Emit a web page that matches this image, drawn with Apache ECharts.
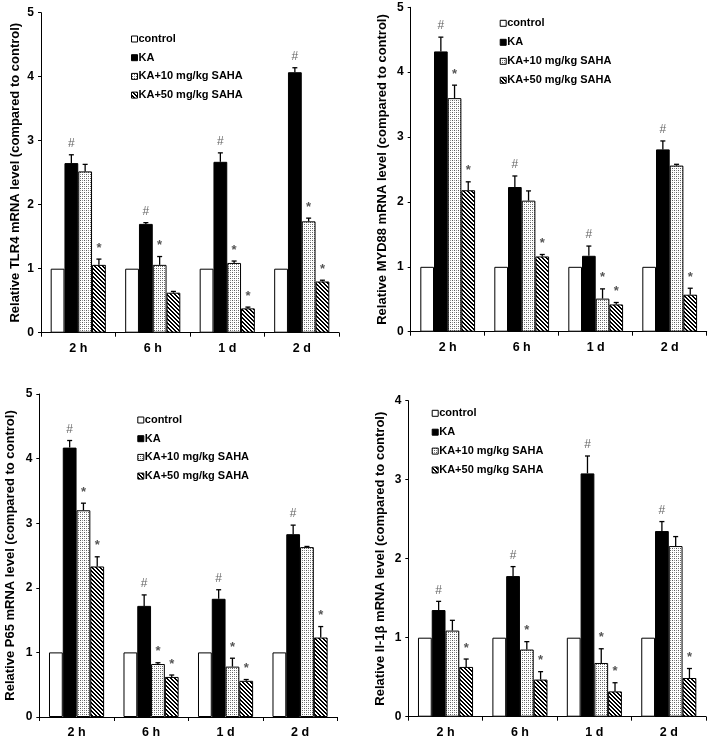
<!DOCTYPE html>
<html>
<head>
<meta charset="utf-8">
<script src="https://cdn.jsdelivr.net/npm/echarts@6/dist/echarts.min.js"></script>
<style>html,body{margin:0;padding:0;background:#fff}#c{width:709px;height:739px}</style>
</head>
<body>
<div id="c"></div>
<script>
const categories = ['2 h', '6 h', '1 d', '2 d'];
const seriesNames = ['control', 'KA', 'KA+10 mg/kg SAHA', 'KA+50 mg/kg SAHA'];
const yTitles = [
  'Relative TLR4 mRNA level (compared to control)',
  'Relative MYD88 mRNA level (compared to control)',
  'Relative P65 mRNA level (compared to control)',
  'Relative Il-1\u03b2 mRNA level (compared to control)'
];
const yMax = [5, 5, 5, 4];

// rows: control, KA, KA+10, KA+50 ; columns: 2 h, 6 h, 1 d, 2 d
const tlr4Mean = [[1, 1, 1, 1], [2.65, 1.70, 2.67, 4.07], [2.52, 1.06, 1.09, 1.74], [1.06, 0.625, 0.38, 0.80]];
const tlr4Err  = [[0, 0, 0, 0], [0.13, 0.02, 0.14, 0.07], [0.11, 0.13, 0.03, 0.05], [0.09, 0.02, 0.02, 0.02]];
const tlr4Sig  = [['', '', '', ''], ['#', '#', '#', '#'], ['', '*', '*', '*'], ['*', '', '*', '*']];

const myd88Mean = [[1, 1, 1, 1], [4.32, 2.23, 1.17, 2.81], [3.60, 2.02, 0.51, 2.56], [2.18, 1.16, 0.42, 0.57]];
const myd88Err  = [[0, 0, 0, 0], [0.22, 0.17, 0.15, 0.13], [0.20, 0.15, 0.15, 0.02], [0.13, 0.03, 0.03, 0.10]];
const myd88Sig  = [['', '', '', ''], ['#', '#', '#', '#'], ['*', '', '*', ''], ['*', '*', '*', '*']];

const p65Mean = [[1, 1, 1, 1], [4.17, 1.72, 1.83, 2.83], [3.20, 0.82, 0.78, 2.63], [2.33, 0.62, 0.56, 1.23]];
const p65Err  = [[0, 0, 0, 0], [0.11, 0.17, 0.14, 0.14], [0.11, 0.02, 0.13, 0.01], [0.15, 0.03, 0.02, 0.17]];
const p65Sig  = [['', '', '', ''], ['#', '#', '#', '#'], ['*', '*', '*', ''], ['*', '*', '*', '*']];

const il1bMean = [[1, 1, 1, 1], [1.35, 1.78, 3.08, 2.35], [1.09, 0.85, 0.68, 2.16], [0.63, 0.47, 0.32, 0.49]];
const il1bErr  = [[0, 0, 0, 0], [0.11, 0.12, 0.22, 0.12], [0.13, 0.10, 0.18, 0.12], [0.10, 0.10, 0.11, 0.12]];
const il1bSig  = [['', '', '', ''], ['#', '#', '#', '#'], ['', '*', '*', ''], ['*', '*', '*', '*']];

const panels = [
  { mean: tlr4Mean, err: tlr4Err, sig: tlr4Sig },
  { mean: myd88Mean, err: myd88Err, sig: myd88Sig },
  { mean: p65Mean, err: p65Err, sig: p65Sig },
  { mean: il1bMean, err: il1bErr, sig: il1bSig }
];

// layout
const grids = [
  { left: 41, top: 12.7, width: 298, height: 320 },
  { left: 410.7, top: 7.3, width: 296, height: 324.4 },
  { left: 39.3, top: 394, width: 298, height: 326 },
  { left: 408.3, top: 400.7, width: 297.7, height: 316 }
];
const nameGaps = [19.5, 21.5, 22.5, 21];
// legend: icon left x, first row centre y, row step
const legendPos = [
  { x: 131, y: 39, step: 18.7 },
  { x: 499.7, y: 23.3, step: 19 },
  { x: 137.3, y: 420, step: 18.7 },
  { x: 431.7, y: 413.3, step: 18.9 }
];

function makeTile(size, fn) {
  const cv = document.createElement('canvas');
  cv.width = size; cv.height = size;
  const ctx = cv.getContext('2d');
  const img = ctx.createImageData(size, size);
  for (let y = 0; y < size; y++) for (let x = 0; x < size; x++) {
    const v = fn(x, y);
    const i = (y * size + x) * 4;
    img.data[i] = v; img.data[i + 1] = v; img.data[i + 2] = v; img.data[i + 3] = 255;
  }
  ctx.putImageData(img, 0, 0);
  return cv;
}
const dotTile = makeTile(4, (x, y) => ((x % 2 === 0 && y % 2 === 0)) ? ((x + y) % 4 === 0 ? 90 : 150) : 255);
const hatchTile = makeTile(4, (x, y) => (((x - y) % 4 + 4) % 4) < 2 ? 0 : 255);

const fills = [
  '#ffffff',
  '#000000',
  { image: dotTile, repeat: 'repeat' },
  { image: hatchTile, repeat: 'repeat' }
];

const FONT = "'Liberation Sans', Arial, sans-serif";
const GAP = 0.26;

const graphics = [];
legendPos.forEach(p => {
  seriesNames.forEach((nm, si) => {
    const cy = p.y + si * p.step;
    graphics.push({
      type: 'rect', silent: true,
      shape: { x: p.x + 0.5, y: cy - 3, width: 6, height: 6 },
      style: { fill: fills[si], stroke: '#000', lineWidth: 1 }
    });
    graphics.push({
      type: 'text', silent: true, x: p.x + 7.5, y: cy,
      style: { text: nm, fill: '#000', font: 'bold 11px ' + FONT, verticalAlign: 'middle', align: 'left' }
    });
  });
});

const option = {
  animation: false,
  backgroundColor: '#fff',
  grid: grids.map(g => Object.assign({ containLabel: false }, g)),
  xAxis: grids.map((g, i) => ({
    type: 'category', gridIndex: i, data: categories,
    axisLine: { lineStyle: { color: '#000', width: 1 } },
    axisTick: { show: true, length: 4, lineStyle: { color: '#000' } },
    axisLabel: { color: '#000', fontWeight: 'bold', fontSize: 12.5, fontFamily: FONT, margin: 9 }
  })),
  yAxis: grids.map((g, i) => ({
    type: 'value', gridIndex: i, min: 0, max: yMax[i], interval: 1,
    name: yTitles[i], nameLocation: 'middle', nameGap: nameGaps[i],
    nameTextStyle: { color: '#000', fontWeight: 'bold', fontSize: 13, fontFamily: FONT },
    axisLine: { show: true, lineStyle: { color: '#000', width: 1 } },
    axisTick: { show: true, length: 3, lineStyle: { color: '#000' } },
    splitLine: { show: false },
    axisLabel: { color: '#000', fontWeight: 'bold', fontSize: 12, fontFamily: FONT, margin: 7 }
  })),
  graphic: graphics,
  series: []
};

panels.forEach((p, gi) => {
  seriesNames.forEach((nm, si) => {
    option.series.push({
      type: 'bar', name: nm, xAxisIndex: gi, yAxisIndex: gi,
      data: p.mean[si],
      barGap: '0%', barCategoryGap: (GAP * 100) + '%',
      itemStyle: { color: fills[si], borderColor: '#000', borderWidth: 1 },
      emphasis: { disabled: true }
    });
  });
  const items = [];
  for (let si = 1; si < 4; si++) for (let ci = 0; ci < 4; ci++) {
    items.push([ci, p.mean[si][ci], p.err[si][ci], si]);
  }
  const sigs = items.map(d => p.sig[d[3]][d[0]]);
  option.series.push({
    type: 'custom', xAxisIndex: gi, yAxisIndex: gi, z: 10, silent: true,
    data: items,
    renderItem: function (params, api) {
      const ci = api.value(0), mean = api.value(1), err = api.value(2), si = api.value(3);
      const band = api.size([1, 0])[0];
      const bw = band * (1 - GAP) / 4;
      const c0 = api.coord([ci, mean]);
      const c1 = api.coord([ci, mean + err]);
      const x = c0[0] - band * (1 - GAP) / 2 + (si + 0.5) * bw;
      const children = [];
      if (err > 0) {
        children.push({ type: 'line', shape: { x1: x, y1: c0[1], x2: x, y2: c1[1] }, style: { stroke: '#000', lineWidth: 1.3 } });
        children.push({ type: 'line', shape: { x1: x - 2.5, y1: c1[1], x2: x + 2.5, y2: c1[1] }, style: { stroke: '#000', lineWidth: 1.3 } });
      }
      const s = sigs[params.dataIndex];
      if (s) {
        children.push({
          type: 'text',
          style: {
            x: x, y: c1[1] - 11, text: s, align: 'center', verticalAlign: 'middle',
            fill: s === '#' ? '#666' : '#555', fontSize: s === '#' ? 12 : 13,
            fontWeight: s === '#' ? 'normal' : 'bold', fontFamily: FONT
          }
        });
      }
      return { type: 'group', children: children };
    }
  });
});

const chart = echarts.init(document.getElementById('c'), null, { renderer: 'canvas' });
chart.setOption(option);
</script>
</body>
</html>
